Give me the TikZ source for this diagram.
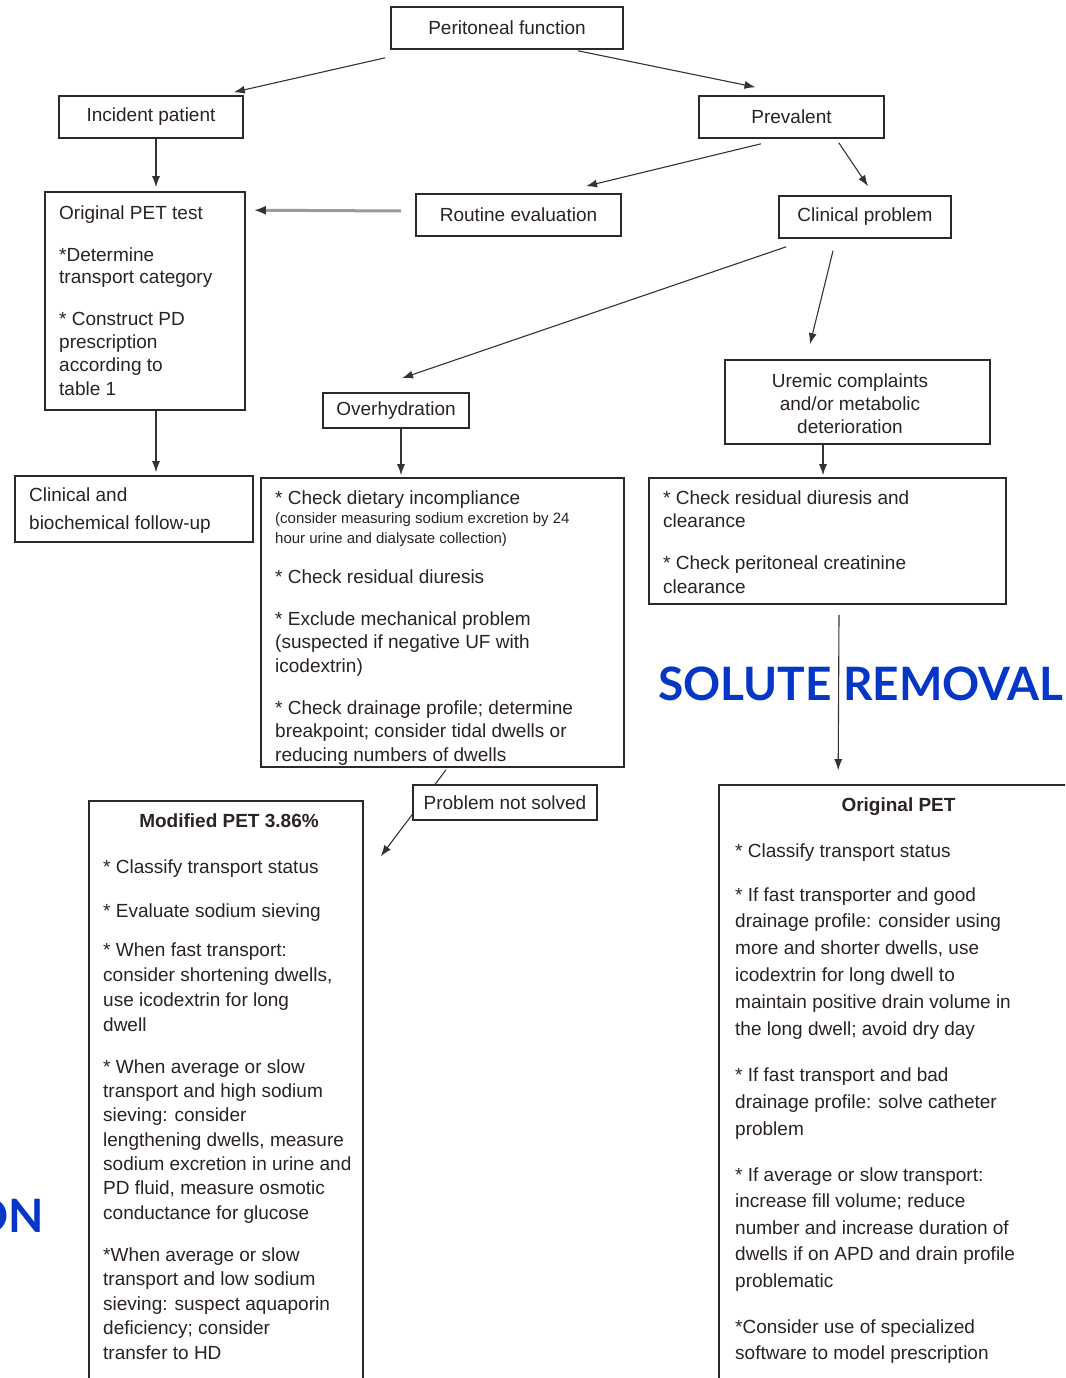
\documentclass[tikz,border=0pt]{standalone}
\usepackage{fontspec}
\setmainfont{Liberation Sans}
\newfontfamily\bannerfont{Lato}
\usetikzlibrary{arrows.meta}
\definecolor{boxc}{HTML}{2A2A2A}
\definecolor{txtc}{HTML}{2A2226}
\definecolor{arrc}{HTML}{333333}
\definecolor{bluet}{HTML}{0536C6}
\tikzset{
  box/.style={draw=boxc, line width=1.6pt, inner sep=0pt, fill=white, text=txtc,
    font=\fontsize{19}{23}\selectfont},
  para/.style={anchor=base west, inner sep=0pt, align=left, text=txtc,
    font=\fontsize{19}{#1}\selectfont},
  para/.default=23.5,
  smallpara/.style={anchor=base west, inner sep=0pt, align=left, text=txtc,
    font=\fontsize{15}{20}\selectfont},
  ttl/.style={anchor=base, inner sep=0pt, text=txtc, font=\fontsize{19}{23}\selectfont\bfseries},
  arr/.style={draw=arrc, line width=1.1pt, -{Latex[length=11pt,width=8pt]}},
  banner/.style={inner sep=0pt, text=bluet, font=\bannerfont\bfseries\fontsize{46}{46}\selectfont}
}
\begin{document}
\begin{tikzpicture}[x=1pt,y=-1pt]
\useasboundingbox (0,0) rectangle (1065,1378);
\clip (0,0) rectangle (1065,1378);
\fill[white] (0,0) rectangle (1065,1378);

% banners
\node[banner, anchor=base west] (sol) at (658,700) {SOLUTE REMOVAL};
\node[banner, anchor=base east] (on) at (44,1232) {ON};

% boxes
\node[box, minimum width=232pt, minimum height=42pt] (pf) at (507,28) {Peritoneal function};
\node[box, minimum width=184pt, minimum height=42pt] (inc) at (151,117) {Incident patient};
\node[box, minimum width=185pt, minimum height=42pt] (prev) at (791.5,117) {Prevalent};
\node[box, minimum width=200pt, minimum height=218pt] (pet) at (145,301) {};
\node[box, minimum width=205pt, minimum height=42pt] (rout) at (518.5,215) {Routine evaluation};
\node[box, minimum width=172pt, minimum height=42pt] (clin) at (865,217) {Clinical problem};
\node[box, minimum width=146pt, minimum height=35pt] (over) at (396,410.5) {Overhydration};
\node[box, minimum width=265pt, minimum height=84pt] (urem) at (857.5,402) {};
\node[box, minimum width=238pt, minimum height=66pt] (fol) at (134,509) {};
\node[box, minimum width=363pt, minimum height=289pt] (ochk) at (442.5,622.5) {};
\node[box, minimum width=357pt, minimum height=126pt] (uchk) at (827.5,541) {};
\node[box, minimum width=274pt, minimum height=620pt] (mpet) at (226,1111) {};
\node[box, minimum width=400pt, minimum height=620pt] (opet) at (919,1095) {};

% connectors
\draw[arr] ([xshift=-5pt,yshift=-8pt]pf.south west) -- ([xshift=-10pt,yshift=3pt]inc.north east);
\draw[arr] ([xshift=71pt,yshift=-1pt]pf.south) -- ([xshift=-36pt,yshift=8pt]prev.north);
\draw[arr] ([xshift=5pt]inc.south) -- ([xshift=11pt,yshift=4pt]pet.north);
\draw[draw=black!40, line width=3pt, -{Latex[length=12pt,width=9pt,color=arrc]}]
  ([xshift=-14pt,yshift=4pt]rout.west) -- ([xshift=8pt,yshift=-19pt]pet.north east);
\draw[arr] ([xshift=-30.5pt,yshift=-5pt]prev.south) -- ([xshift=67.5pt,yshift=7pt]rout.north);
\draw[arr] ([xshift=-46pt,yshift=-4pt]prev.south east) -- ([xshift=3pt,yshift=9pt]clin.north);
\draw[arr] ([xshift=8pt,yshift=-8pt]clin.south west) -- ([xshift=6pt,yshift=14pt]over.north);
\draw[arr] ([xshift=-32pt,yshift=-12pt]clin.south) -- ([xshift=-47.5pt,yshift=15pt]urem.north);
\draw[arr] ([xshift=11pt]pet.south) -- ([xshift=22pt,yshift=3pt]fol.north);
\draw[arr] ([xshift=5pt]over.south) -- ([xshift=-41.5pt,yshift=2pt]ochk.north);
\draw[arr] ([xshift=-34.5pt]urem.south) -- ([xshift=-4.5pt,yshift=2pt]uchk.north);
\draw[arr] ([xshift=11.5pt,yshift=-10pt]uchk.south) -- ([xshift=120pt,yshift=14pt]opet.north west);
\draw[arr] ([xshift=3.5pt,yshift=-2pt]ochk.south) -- ([xshift=17pt,yshift=-56pt]mpet.north east);

\node[box, minimum width=184pt, minimum height=35pt] (pns) at (505,802.5) {Problem not solved};

% texts (anchor = baseline of the LAST line)
\node[para=23] (pet-1) at (59,219) {Original PET test};
\node[para=22.5] (pet-2) at (59,283.5) {*Determine\\transport category};
\node[para=23.3] (pet-3) at (59,395) {* Construct PD\\prescription\\according to\\table 1};

\node[para=28] (fol-1) at (29,529) {Clinical and\\biochemical follow-up};

\node[anchor=base, inner sep=0pt, align=center, text=txtc, font=\fontsize{19}{23}\selectfont]
  (urem-t) at (850,433) {Uremic complaints\\and/or metabolic\\deterioration};

\node[para] (ochk-1) at (275,504) {* Check dietary incompliance};
\node[smallpara] (ochk-1b) at (275,543) {(consider measuring sodium excretion by 24\\hour urine and dialysate collection)};
\node[para] (ochk-2) at (275,583) {* Check residual diuresis};
\node[para=23.5] (ochk-3) at (275,672) {* Exclude mechanical problem\\(suspected if negative UF with\\icodextrin)};
\node[para=23.5] (ochk-4) at (275,761) {* Check drainage profile; determine\\breakpoint; consider tidal dwells or\\reducing numbers of dwells};

\node[para=23] (uchk-1) at (663,527) {* Check residual diuresis and\\clearance};
\node[para=24] (uchk-2) at (663,593) {* Check peritoneal creatinine\\clearance};

\node[ttl] (mpet-t) at (229,827) {Modified PET 3.86\%};
\node[para] (mpet-1) at (103,873) {* Classify transport status};
\node[para] (mpet-2) at (103,917) {* Evaluate sodium sieving};
\node[para=24.7] (mpet-3) at (103,1031) {* When fast transport:\\consider shortening dwells,\\use icodextrin for long\\dwell};
\node[para=24.33] (mpet-4) at (103,1219) {* When average or slow\\transport and high sodium\\sieving: consider\\lengthening dwells, measure\\sodium excretion in urine and\\PD fluid, measure osmotic\\conductance for glucose};
\node[para=24.5] (mpet-5) at (103,1359) {*When average or slow\\transport and low sodium\\sieving: suspect aquaporin\\deficiency; consider\\transfer to HD};

\node[ttl] (opet-t) at (898.5,811) {Original PET};
\node[para] (opet-1) at (735,857) {* Classify transport status};
\node[para=26.8] (opet-2) at (735,1035) {* If fast transporter and good\\drainage profile: consider using\\more and shorter dwells, use\\icodextrin for long dwell to\\maintain positive drain volume in\\the long dwell; avoid dry day};
\node[para=27] (opet-3) at (735,1135) {* If fast transport and bad\\drainage profile: solve catheter\\problem};
\node[para=26.5] (opet-4) at (735,1287) {* If average or slow transport:\\increase fill volume; reduce\\number and increase duration of\\dwells if on APD and drain profile\\problematic};
\node[para=26] (opet-5) at (735,1359) {*Consider use of specialized\\software to model prescription};
\end{tikzpicture}
\end{document}
